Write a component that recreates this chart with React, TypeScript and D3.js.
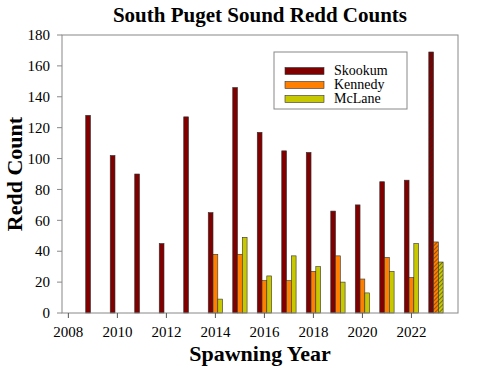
import React from 'react';
import * as d3 from 'd3';

const years = [2009, 2010, 2011, 2012, 2013, 2014, 2015, 2016, 2017, 2018, 2019, 2020, 2021, 2022, 2023];
const skookum = [128, 102, 90, 45, 127, 65, 146, 117, 105, 104, 66, 70, 85, 86, 169];
const kennedy = [null, null, null, null, null, 38, 38, 21, 21, 27, 37, 22, 36, 23, 46];
const mclane = [null, null, null, null, null, 9, 49, 24, 37, 30, 20, 13, 27, 45, 33];
const xTicks = [2008, 2010, 2012, 2014, 2016, 2018, 2020, 2022];
const yTicks = [0, 20, 40, 60, 80, 100, 120, 140, 160, 180];
const hatchedYear = 2023;

const seriesList = [
  { name: 'Skookum', values: skookum, color: '#800000', pat: 'hatchSk' },
  { name: 'Kennedy', values: kennedy, color: '#ff8000', pat: 'hatchKe' },
  { name: 'McLane', values: mclane, color: '#c8c800', pat: 'hatchMc' },
];

const left = 62, right = 458, top = 35, bottom = 313;

export default function App() {
  const x = d3.scaleLinear().domain([2007.74, 2023.9]).range([left, right]);
  const y = d3.scaleLinear().domain([0, 180]).range([bottom, top]);
  const bw = 0.195;

  return (
    <svg
      width={480}
      height={369}
      style={{ position: 'absolute', left: 0, top: 0, fontFamily: "'Liberation Serif', 'Times New Roman', serif" }}
    >
      <defs>
        {seriesList.map((s) => (
          <pattern key={s.pat} id={s.pat} width={3} height={3} patternUnits="userSpaceOnUse" patternTransform="rotate(45)">
            <rect width={3} height={3} fill={s.color} />
            <line x1={0} y1={0} x2={0} y2={3} stroke="#222" strokeWidth={1} />
          </pattern>
        ))}
      </defs>
      <rect width={480} height={369} fill="#fff" />
      <text x={(left + right) / 2} y={22} textAnchor="middle" fontWeight="bold" fontSize={21}>
        South Puget Sound Redd Counts
      </text>

      {/* bars */}
      {seriesList.map((s, si) =>
        years.map((yr, i) => {
          const v = s.values[i];
          if (v == null) return null;
          const x0 = x(yr + (si - 1.5) * bw);
          const x1 = x(yr + (si - 0.5) * bw);
          return (
            <rect
              key={s.name + yr}
              x={x0}
              y={y(v)}
              width={x1 - x0}
              height={y(0) - y(v)}
              fill={yr === hatchedYear ? `url(#${s.pat})` : s.color}
              stroke="#333"
              strokeWidth={0.6}
            />
          );
        })
      )}

      {/* frame */}
      <rect x={left} y={top} width={right - left} height={bottom - top} fill="none" stroke="#888" strokeWidth={1} />

      {/* y axis */}
      {yTicks.map((t) => (
        <g key={'y' + t}>
          <line x1={left - 5} x2={left} y1={y(t)} y2={y(t)} stroke="#888" />
          <text x={left - 12} y={y(t)} dy="0.35em" textAnchor="end" fontSize={15}>
            {t}
          </text>
        </g>
      ))}

      {/* x axis */}
      {xTicks.map((t) => (
        <g key={'x' + t}>
          <line x1={x(t)} x2={x(t)} y1={bottom} y2={bottom + 5} stroke="#555" />
          <text x={x(t)} y={bottom + 24} textAnchor="middle" fontSize={15}>
            {t}
          </text>
        </g>
      ))}

      <text x={(left + right) / 2} y={361} textAnchor="middle" fontWeight="bold" fontSize={22}>
        Spawning Year
      </text>
      <text transform={`translate(22, ${(top + bottom) / 2}) rotate(-90)`} textAnchor="middle" fontWeight="bold" fontSize={22}>
        Redd Count
      </text>

      {/* legend */}
      <rect x={274} y={52} width={133} height={57} fill="#fff" stroke="#888" />
      {seriesList.map((s, i) => (
        <g key={'lg' + s.name}>
          <rect x={285} y={67.5 + i * 14} width={39} height={7} fill={s.color} stroke="#333" strokeWidth={0.6} />
          <text x={334} y={71 + i * 14} dy="0.32em" fontSize={14}>
            {s.name}
          </text>
        </g>
      ))}
    </svg>
  );
}
